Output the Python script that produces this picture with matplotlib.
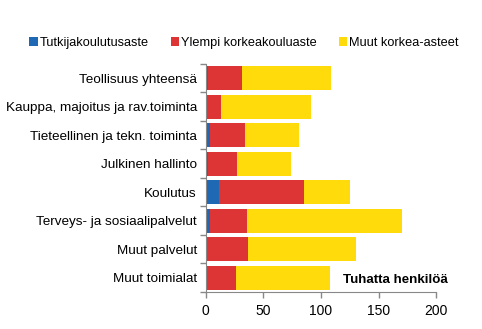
import numpy as np
import matplotlib.pyplot as plt
from matplotlib.ticker import FixedLocator

plt.rcParams['font.family'] = ['Liberation Sans', 'DejaVu Sans']

categories = ['Teollisuus yhteensä', 'Kauppa, majoitus ja rav.toiminta',
              'Tieteellinen ja tekn. toiminta', 'Julkinen hallinto', 'Koulutus',
              'Terveys- ja sosiaalipalvelut', 'Muut palvelut', 'Muut toimialat']
tutkija = [2.3, 0.4, 4.0, 2.3, 11.6, 4.0, 0.9, 0.8]
ylempi = [28.7, 13.0, 29.6, 25.2, 73.4, 31.4, 35.4, 25.0]
muut = [77.4, 77.6, 47.1, 46.7, 39.9, 134.6, 94.5, 81.8]
series_names = ['Tutkijakoulutusaste', 'Ylempi korkeakouluaste', 'Muut korkea-asteet']
colors = ['#1f69b4', '#dd3535', '#ffdb0b']

fig = plt.figure(figsize=(4.82, 3.29), dpi=100)
ax = fig.add_axes([0.427, 0.1125, 0.478, 0.693])

y = np.arange(len(categories))
left = np.zeros(len(categories))
for vals, name, c in zip([tutkija, ylempi, muut], series_names, colors):
    ax.barh(y, vals, left=left, height=0.84, color=c, label=name)
    left = left + np.array(vals)

ax.set_xlim(0, 200)
ax.set_ylim(len(categories) - 0.5, -0.5)
ax.set_xticks([0, 50, 100, 150, 200])
ax.set_yticks(y)
ax.set_yticklabels(categories)
ax.yaxis.set_minor_locator(FixedLocator(np.arange(-0.5, len(categories), 1)))
ax.tick_params(axis='y', which='major', length=0, labelsize=9.7, pad=6.5)
ax.tick_params(axis='y', which='minor', length=4, color='#888888', width=1)
ax.tick_params(axis='x', length=4, color='#888888', width=1, labelsize=10, pad=5)
for s in ['top', 'right']:
    ax.spines[s].set_visible(False)
for s in ['left', 'bottom']:
    ax.spines[s].set_color('#888888')

ax.text(1.052, 0.026, 'Tuhatta henkilöä', transform=ax.transAxes, ha='right', va='bottom',
        fontsize=9.6, fontweight='bold')

fig.legend(loc='upper center', bbox_to_anchor=(0.506, 0.922), ncol=3, frameon=False,
           fontsize=9.2, handlelength=0.68, handleheight=0.68, handletextpad=0.15,
           columnspacing=1.7)

fig.savefig('out.png')
